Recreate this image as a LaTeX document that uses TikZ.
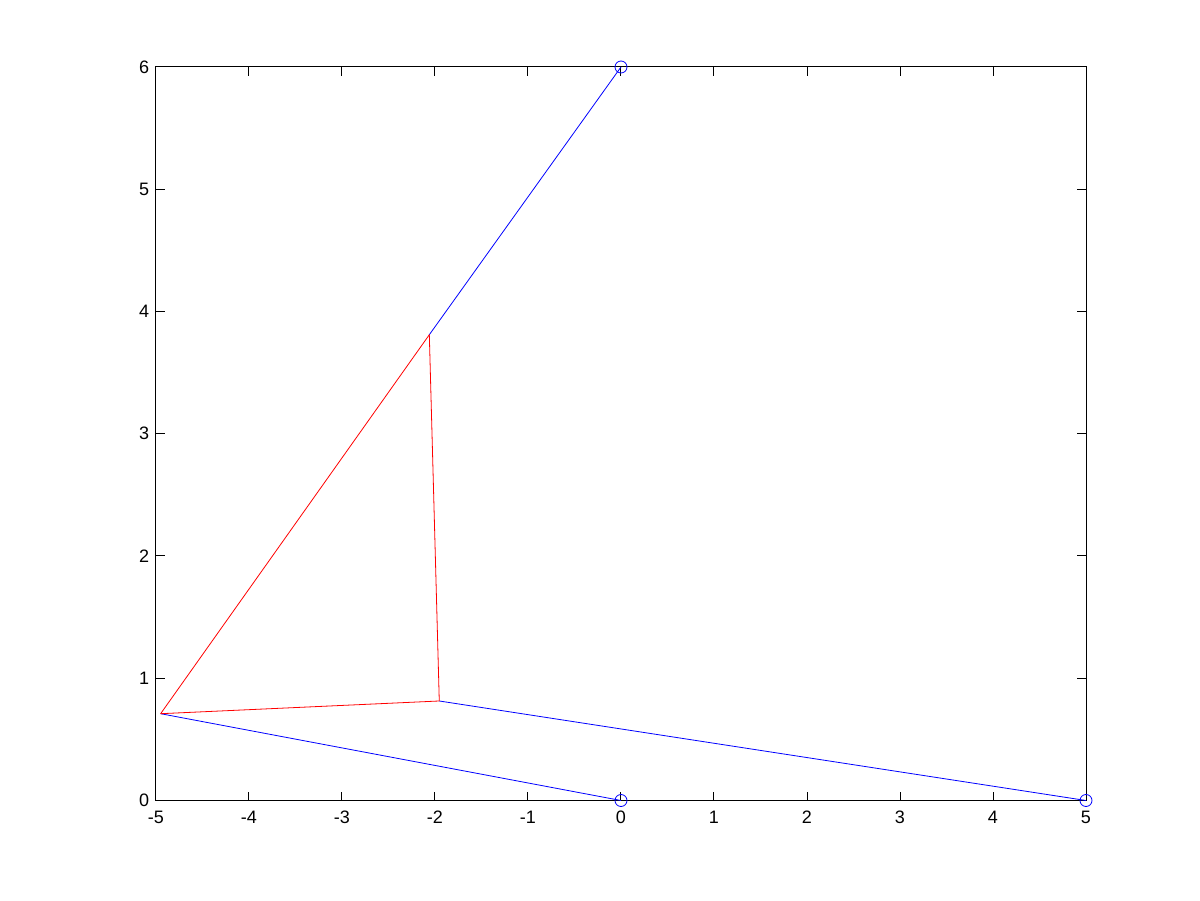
\documentclass[tikz,border=0pt]{standalone}
\usepackage{fontspec}
\setmainfont{Liberation Sans}
\begin{document}
\begin{tikzpicture}[x=69.75pt,y=91.6875pt,
  axisline/.style={black, line width=0.75pt},
  ticklab/.style={font=\fontsize{13.5}{14}\selectfont, inner sep=0pt},
  bluelink/.style={blue, line width=0.6pt},
  redlink/.style={red, line width=0.6pt},
  marker/.style={circle, draw=blue, line width=0.6pt, minimum size=9pt, inner sep=0pt}]
\useasboundingbox (-465.75pt,-74.625pt) rectangle (434.25pt,600.375pt);
\fill[white] (-465.75pt,-74.625pt) rectangle (434.25pt,600.375pt);
% axes box
\draw[axisline] (-5,0) rectangle (5,6);
\foreach \x in {-5,...,5} {
  \draw[axisline] (\x,0) -- ++(0,6.75pt);
  \draw[axisline] (\x,6) -- ++(0,-6.75pt);
  \node[ticklab, anchor=north] (xl\x) at ([yshift=-7.9pt]\x,0) {\x};
}
\foreach \y in {0,...,6} {
  \draw[axisline] (-5,\y) -- ++(6.75pt,0);
  \draw[axisline] (5,\y) -- ++(-6.75pt,0);
  \node[ticklab, anchor=east] (yl\y) at ([xshift=-5pt]-5,\y) {\y};
}
% linkage points
\coordinate (A) at (-4.95,0.71);
\coordinate (B) at (-1.954,0.814);
\coordinate (C) at (-2.061,3.81);
\node[marker] (P1) at (0,6) {};
\node[marker] (P2) at (0,0) {};
\node[marker] (P3) at (5,0) {};
% links
\draw[bluelink] (P1.center) -- (C);
\draw[bluelink] (B) -- (P3.center);
\draw[bluelink] (A) -- (P2.center);
\draw[redlink] (C) -- (A);
\draw[redlink] (A) -- (B);
\draw[redlink] (B) -- (C);
\end{tikzpicture}
\end{document}
